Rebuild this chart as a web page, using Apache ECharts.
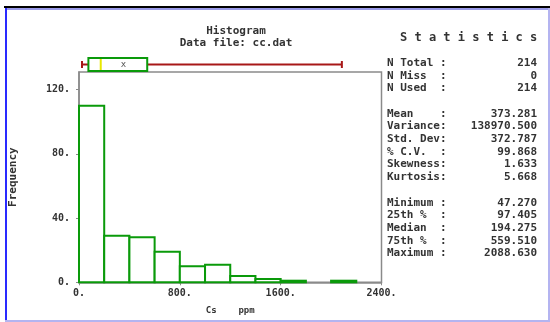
<!DOCTYPE html>
<html>
<head>
<meta charset="utf-8">
<script src="https://cdn.jsdelivr.net/npm/echarts@6/dist/echarts.min.js"></script>
<style>
html,body{margin:0;padding:0;background:#fff;}
#chart{width:550px;height:322px;}
</style>
</head>
<body>
<div id="chart"></div>
<script>
// ---- data ----
var binStarts = [0, 200, 400, 600, 800, 1000, 1200, 1400, 1600, 1800, 2000];
var binWidth = 200;
var counts = [110, 29, 28, 19, 10, 11, 4, 2, 1, 0, 1];
var xTicks = [0, 800, 1600, 2400];
var yTicks = [0, 40, 80, 120];
// box plot: min, q1, median, q3, max, mean
var boxStats = [47.270, 97.405, 194.275, 559.510, 2088.630, 373.281];
var statLabels = ['N Total :', 'N Miss  :', 'N Used  :', '', 'Mean    :', 'Variance:', 'Std. Dev:', '% C.V.  :', 'Skewness:', 'Kurtosis:', '', 'Minimum :', '25th %  :', 'Median  :', '75th %  :', 'Maximum :'];
var statValues = ['214', '0', '214', '', '373.281', '138970.500', '372.787', '99.868', '1.633', '5.668', '', '47.270', '97.405', '194.275', '559.510', '2088.630'];

var FONT = '"DejaVu Sans Mono", "Liberation Mono", monospace';
var TXT = '#333';
var chart = echarts.init(document.getElementById('chart'));

var histData = binStarts.map(function (s, i) { return [s, s + binWidth, counts[i]]; });

var graphics = [
  // frame decorations
  { type: 'rect', shape: { x: 4, y: 6, width: 546, height: 2 }, style: { fill: '#000' } },
  { type: 'rect', shape: { x: 6, y: 8, width: 544, height: 2 }, style: { fill: '#9a9ae8' } },
  { type: 'rect', shape: { x: 5, y: 8, width: 2, height: 314 }, style: { fill: '#2a2aff' } },
  { type: 'rect', shape: { x: 5, y: 320, width: 545, height: 2 }, style: { fill: '#b4b4f0' } },
  { type: 'rect', shape: { x: 548, y: 8, width: 2, height: 314 }, style: { fill: '#b4b4f0' } },
  { type: 'text', left: 400, top: 32, style: { text: 'S t a t i s t i c s', font: 'bold 12px ' + FONT, fill: TXT } }
];
var rowY = 57.5, rowH = 12.7;
for (var i = 0; i < statLabels.length; i++) {
  var y = rowY + i * rowH;
  if (statLabels[i]) {
    graphics.push({ type: 'text', x: 387, y: y, style: { text: statLabels[i], font: 'bold 11px ' + FONT, fill: TXT } });
    graphics.push({ type: 'text', x: 537, y: y, style: { text: statValues[i], font: 'bold 11px ' + FONT, fill: TXT, textAlign: 'right' } });
  }
}

chart.setOption({
  animation: false,
  backgroundColor: '#fff',
  title: [
    { text: 'Histogram', left: 231, top: 21, textAlign: 'center', textStyle: { fontFamily: FONT, fontSize: 11, fontWeight: 'bold', color: TXT } },
    { text: 'Data file: cc.dat', left: 231, top: 33, textAlign: 'center', textStyle: { fontFamily: FONT, fontSize: 11, fontWeight: 'bold', color: TXT } }
  ],
  graphic: graphics,
  grid: [
    { left: 76, right: 168.5, top: 72, bottom: 39.7, show: true, borderColor: '#8a8a8a', borderWidth: 1.5, backgroundColor: 'transparent' },
    { left: 76, right: 168.5, top: 58, height: 13 }
  ],
  xAxis: [
    {
      gridIndex: 0, type: 'value', min: 0, max: 2400, interval: 800,
      name: 'Cs    ppm', nameLocation: 'middle', nameGap: 24,
      nameTextStyle: { fontFamily: FONT, fontSize: 9, fontWeight: 'bold', color: TXT },
      axisLine: { show: true, lineStyle: { color: '#8a8a8a', width: 1.5 } },
      axisTick: { show: true, length: 3, lineStyle: { color: '#8a8a8a' } },
      splitLine: { show: false },
      axisLabel: { margin: 6, fontFamily: FONT, fontSize: 10, fontWeight: 'bold', color: TXT,
        formatter: function (v) { return xTicks.indexOf(v) >= 0 ? v + '.' : ''; } }
    },
    { gridIndex: 1, type: 'value', min: 0, max: 2400, show: false }
  ],
  yAxis: [
    {
      gridIndex: 0, type: 'value', min: 0, max: 131, interval: 40,
      name: 'Frequency', nameLocation: 'middle', nameGap: 60, nameRotate: 90,
      nameTextStyle: { fontFamily: FONT, fontSize: 11, fontWeight: 'bold', color: TXT },
      axisLine: { show: true, lineStyle: { color: '#8a8a8a', width: 1.5 } },
      axisTick: { show: true, length: 3, lineStyle: { color: '#8a8a8a' } },
      splitLine: { show: false },
      axisLabel: { margin: 9, fontFamily: FONT, fontSize: 10, fontWeight: 'bold', color: TXT,
        showMaxLabel: false,
        formatter: function (v) { return yTicks.indexOf(v) >= 0 ? v + '.' : ''; } }
    },
    { gridIndex: 1, type: 'value', min: 0, max: 1, show: false }
  ],
  series: [
    {
      type: 'custom', xAxisIndex: 0, yAxisIndex: 0,
      data: histData,
      renderItem: function (params, api) {
        if (!api.value(2)) { return null; }
        var p0 = api.coord([api.value(0), api.value(2)]);
        var p1 = api.coord([api.value(1), 0]);
        return {
          type: 'rect',
          shape: { x: p0[0], y: p0[1], width: p1[0] - p0[0], height: p1[1] - p0[1] },
          style: { fill: '#fff', stroke: '#0a9a0a', lineWidth: 2 }
        };
      },
      z: 3
    },
    {
      type: 'custom', xAxisIndex: 1, yAxisIndex: 1,
      data: [boxStats],
      renderItem: function (params, api) {
        var mn = api.coord([api.value(0), 0.5]);
        var q1 = api.coord([api.value(1), 0]);
        var md = api.coord([api.value(2), 0.5]);
        var q3 = api.coord([api.value(3), 1]);
        var mx = api.coord([api.value(4), 0.5]);
        var me = api.coord([api.value(5), 0.5]);
        var yc = mn[1];
        var red = '#a81818';
        return {
          type: 'group',
          children: [
            { type: 'line', shape: { x1: mn[0], y1: yc, x2: mx[0], y2: yc }, style: { stroke: red, lineWidth: 2 } },
            { type: 'line', shape: { x1: mn[0], y1: yc - 3.5, x2: mn[0], y2: yc + 3.5 }, style: { stroke: red, lineWidth: 2 } },
            { type: 'line', shape: { x1: mx[0], y1: yc - 3.5, x2: mx[0], y2: yc + 3.5 }, style: { stroke: red, lineWidth: 2 } },
            { type: 'rect', shape: { x: q1[0], y: q3[1], width: q3[0] - q1[0], height: q1[1] - q3[1] }, style: { fill: '#fff', stroke: '#0a9a0a', lineWidth: 2 } },
            { type: 'line', shape: { x1: md[0], y1: q3[1] + 1, x2: md[0], y2: q1[1] - 1 }, style: { stroke: '#e8e800', lineWidth: 2 } },
            { type: 'text', x: me[0], y: yc, style: { text: 'x', font: '9px ' + FONT, fill: '#555', textAlign: 'center', textVerticalAlign: 'middle' } }
          ]
        };
      },
      z: 3
    }
  ]
});
</script>
</body>
</html>
